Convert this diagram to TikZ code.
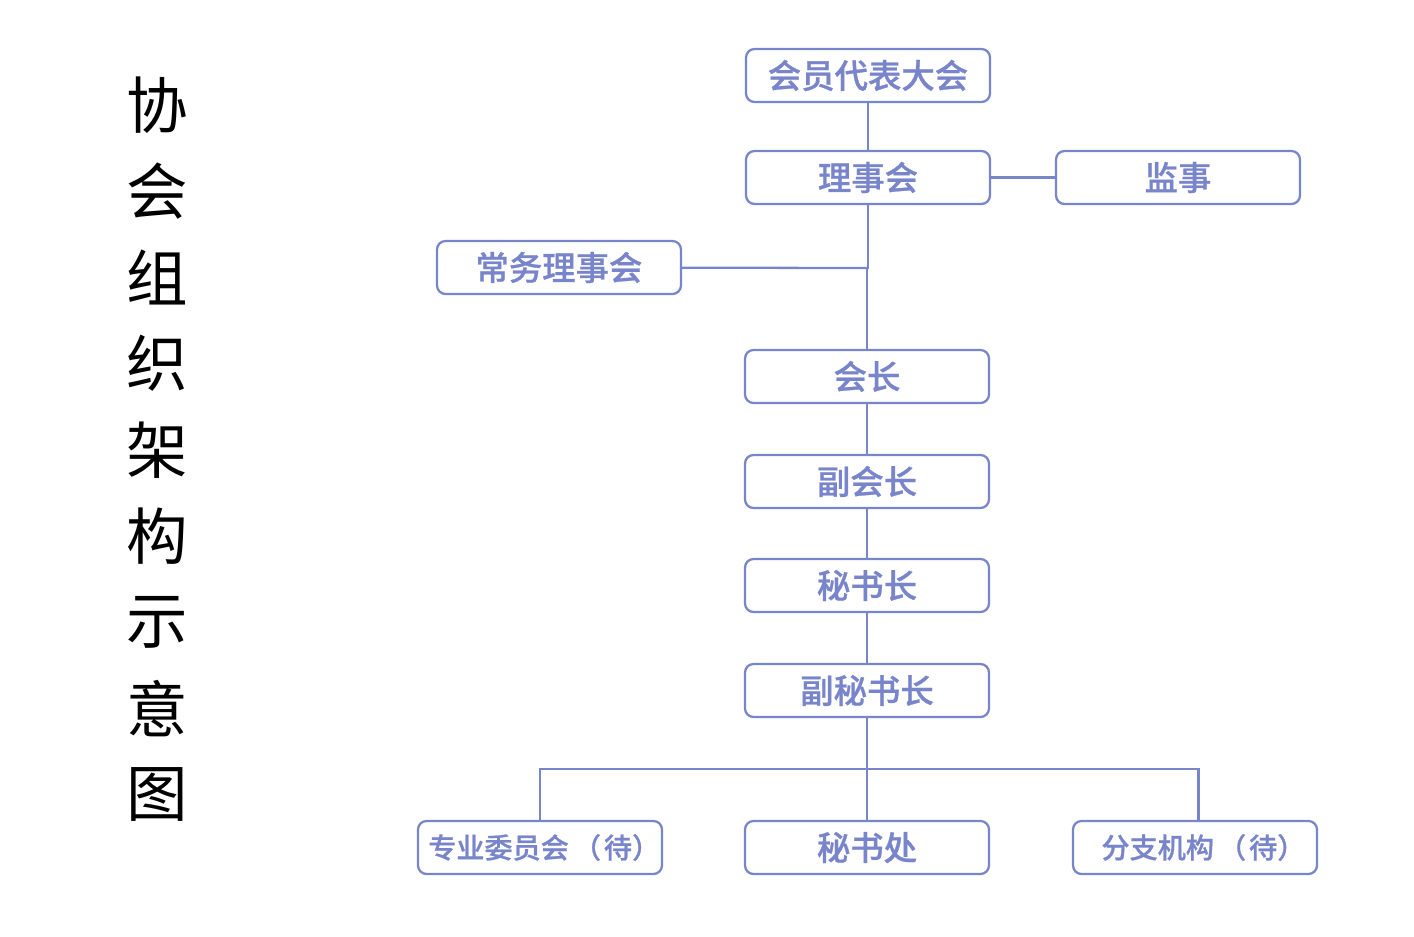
\documentclass[tikz,border=0pt]{standalone}
\usepackage{fontspec}
\newfontfamily\cjk{Noto Sans CJK SC}
\newfontfamily\cjkmed{NotoSansCJK-Medium.ttc}[FontIndex=2,FakeBold=0.8,RawFeature={-chws}]
\definecolor{orgblue}{RGB}{121,133,203}
\tikzset{
    post/.style={draw=orgblue,line width=1.3pt,rounded corners=0.17cm,minimum width=4.88cm,minimum height=1.06cm,inner sep=0pt,text=orgblue,font=\cjkmed\fontsize{19}{19}\selectfont},
    smallpost/.style={post,font=\cjkmed\fontsize{16}{16}\selectfont},
    link/.style={draw=orgblue,line width=1.3pt}
}

\begin{document}
\begin{tikzpicture}[x=0.02cm,y=-0.02cm]
            \useasboundingbox (0,0) rectangle (1414,937);
            % title
            \foreach \c [count=\i from 0] in {协,会,组,织,架,构,示,意,图}{
                \node[font=\cjk\fontsize{35}{35}\selectfont] (t\i) at (157,105+86.2*\i) {\c};
            }
            % boxes
            \node[post] (congress) at (868,75.5) {会员代表大会};
            \node[post] (council) at (868,177.5) {理事会};
            \node[post] (supervisor) at (1178,177.5) {监事};
            \node[post] (standing) at (559,267.5) {常务理事会};
            \node[post] (president) at (867,376.5) {会长};
            \node[post] (vicepres) at (867,481.5) {副会长};
            \node[post] (secgen) at (867,585.5) {秘书长};
            \node[post] (vicesec) at (867,690.5) {副秘书长};
            \node[smallpost] (committee) at (540,847.5) {\hspace{0.3em}专业委员会\hspace{0.15em}（\hspace{0.1em}待）};
            \node[post] (office) at (867,847.5) {秘书处};
            \node[smallpost] (branch) at (1195,847.5) {\hspace{0.6em}分支机构\hspace{0.15em}（\hspace{0.1em}待）};
            \coordinate (joint) at (868,268);
            \coordinate (bus) at (867,769);
            % links
            \draw[link] (congress) -- (council);
            \draw[link] (council) -- (supervisor);
            \draw[link] (council.south) -- (joint) -- (joint -| president.north) -- (president.north);
            \draw[link] (standing) -- (joint);
            \draw[link] (president) -- (vicepres);
            \draw[link] (vicepres) -- (secgen);
            \draw[link] (secgen) -- (vicesec);
            \draw[link] (vicesec.south) -- (bus) -- (office.north);
            \draw[link] (bus) -| (committee.north);
            \draw[link] (bus) -| ([xshift=2]branch.north);
        \end{tikzpicture}
\end{document}
